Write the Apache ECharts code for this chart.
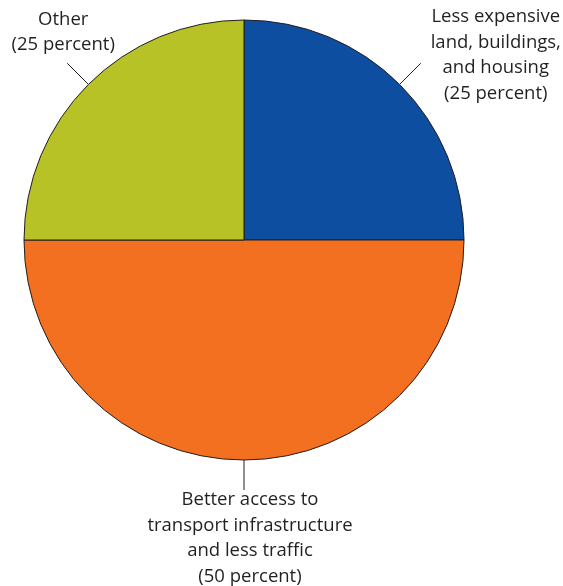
<!DOCTYPE html>
<html>
<head>
    <meta charset="utf-8">
    <title>pie</title>
    <script src="https://cdn.jsdelivr.net/npm/echarts@6/dist/echarts.min.js"></script>
</head>
<body style="margin:0;">
   <div id="main" style="width:563px;height:586px;"></div>

<script type="text/javascript">
// data
var categories = ['Less expensive\nland, buildings,\nand housing\n(25 percent)',
                  'Better access to\ntransport infrastructure\nand less traffic\n(50 percent)',
                  'Other\n(25 percent)'];
var values = [25, 50, 25];
var colors = ['#0d4ea1', '#f37021', '#b6c225'];

// where each label block sits relative to the end of its line
var labelOffsets = [[75, -8], [6, 48], [-4, -31]];

var myChart = echarts.init(document.getElementById('main'));

var pieData = [];
for (var i = 0; i < values.length; i++) {
    pieData.push({name: categories[i], value: values[i], itemStyle: {color: colors[i]}});
}

myChart.setOption({
    animation: false,
    series: [
        {
            type: 'pie',
            center: [244, 240],
            radius: 220,
            startAngle: 90,
            clockwise: true,
            avoidLabelOverlap: false,
            emphasis: {disabled: true},
            itemStyle: {
                borderColor: '#231f20',
                borderWidth: 1
            },
            label: {
                show: true,
                position: 'outside',
                formatter: '{b}',
                color: '#231f20',
                fontFamily: 'Open Sans',
                fontSize: 18.5,
                lineHeight: 25.5,
                align: 'center'
            },
            labelLine: {
                show: true,
                length: 30,
                length2: 0,
                smooth: false,
                lineStyle: {color: '#231f20', width: 1}
            },
            labelLayout: function (params) {
                var pts = params.labelLinePoints;
                var end = pts[pts.length - 1];
                var off = labelOffsets[params.dataIndex];
                return {
                    x: end[0] + off[0],
                    y: end[1] + off[1],
                    align: 'center',
                    verticalAlign: 'middle',
                    labelLinePoints: pts
                };
            },
            data: pieData
        }
    ]
});
</script>
</body>
</html>
